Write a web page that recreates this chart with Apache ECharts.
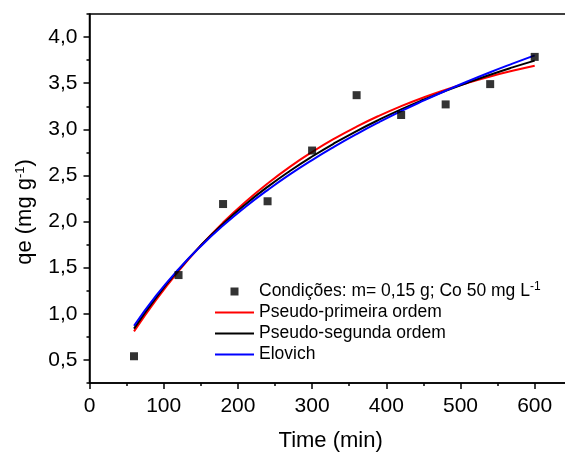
<!DOCTYPE html>
<html>
<head>
<meta charset="utf-8">
<script src="https://cdn.jsdelivr.net/npm/echarts@6/dist/echarts.min.js"></script>
<style>html,body{margin:0;padding:0;background:#fff;}#c{width:565px;height:454px;}</style>
</head>
<body>
<div id="c"></div>
<script>
// Experimental points
const timeExp = [60, 120, 180, 240, 300, 360, 420, 480, 540, 600];
const qeExp = [0.54, 1.42, 2.19, 2.22, 2.77, 3.37, 3.155, 3.27, 3.49, 3.785];

// Fitted curves
const timeFit = [60, 90, 120, 150, 180, 210, 240, 270, 300, 330, 360, 390, 420, 450, 480, 510, 540, 570, 600];
const qePFO = [0.81, 1.154, 1.463, 1.740, 1.989, 2.212, 2.412, 2.593, 2.754, 2.899, 3.029, 3.146, 3.251, 3.345, 3.429, 3.505, 3.573, 3.634, 3.689];
const qePSO = [0.84, 1.179, 1.476, 1.740, 1.975, 2.186, 2.376, 2.548, 2.705, 2.849, 2.981, 3.103, 3.216, 3.320, 3.417, 3.507, 3.592, 3.671, 3.745];
const qeElovich = [0.87, 1.199, 1.483, 1.733, 1.956, 2.158, 2.341, 2.511, 2.667, 2.812, 2.948, 3.076, 3.197, 3.310, 3.418, 3.521, 3.619, 3.712, 3.802];

const seriesNames = ['Condições: m= 0,15 g; Co 50 mg L-1', 'Pseudo-primeira ordem', 'Pseudo-segunda ordem', 'Elovich'];
const xTitle = 'Time (min)';
const xTickMax = 600;

const font = '"Liberation Sans", Arial, sans-serif';
const pair = (xs, ys) => xs.map((x, i) => [x, ys[i]]);
const comma = v => v.toFixed(1).replace('.', ',');
const lineIcon = 'path://M0,0 L39,0 L39,2 L0,2 Z';
const squareIcon = 'path://M0,0 L8,0 L8,8 L0,8 Z';

const chart = echarts.init(document.getElementById('c'), null, {renderer: 'canvas'});
chart.setOption({
  animation: false,
  backgroundColor: '#fff',
  textStyle: {fontFamily: font},
  grid: {left: 89.5, top: 14, width: 482.3, height: 369, outerBoundsMode: 'none', containLabel: false,
    show: true, borderColor: '#000', borderWidth: 1.5, backgroundColor: 'transparent'},
  xAxis: {
    type: 'value', min: 0, max: 650, interval: 100,
    name: xTitle, nameLocation: 'middle', nameGap: 47,
    nameTextStyle: {fontSize: 22, color: '#000', fontFamily: font},
    axisLine: {show: true, lineStyle: {color: '#000', width: 1.5}},
    axisTick: {show: true, inside: false, length: 6, lineStyle: {color: '#000', width: 1.5}},
    minorTick: {show: true, splitNumber: 2, length: 3, lineStyle: {color: '#000', width: 1.5}},
    axisLabel: {fontSize: 21, color: '#000', margin: 13, showMaxLabel: false, fontFamily: font,
      formatter: v => v > xTickMax ? '' : String(v)},
    splitLine: {show: false}
  },
  yAxis: [{
    type: 'value', min: 0.25, max: 4.25, splitNumber: 8,
    name: 'qe (mg g{sup|-1})', nameLocation: 'middle', nameGap: 53, nameRotate: 90,
    nameTextStyle: {fontSize: 22, color: '#000', fontFamily: font, padding: [0, 27, 0, 0],
      rich: {sup: {fontSize: 13, verticalAlign: 'top', padding: [0, 0, 10, 0], fontFamily: font, color: '#000'}}},
    axisLine: {show: true, lineStyle: {color: '#000', width: 1.5}},
    axisTick: {show: true, inside: false, length: 6, lineStyle: {color: '#000', width: 1.5}},
    axisLabel: {fontSize: 21, color: '#000', margin: 12, showMinLabel: false, showMaxLabel: false, fontFamily: font,
      formatter: v => (Math.abs(v * 2 - Math.round(v * 2)) < 1e-6 ? comma(v) : '')},
    splitLine: {show: false}
  }, {
    type: 'value', min: 0.25, max: 4.25, interval: 0.25, position: 'left',
    axisLine: {show: false},
    axisTick: {show: true, inside: false, length: 3, lineStyle: {color: '#000', width: 1.5}},
    axisLabel: {show: false},
    splitLine: {show: false}
  }],
  legend: {
    left: 215, top: 281, padding: 0, orient: 'vertical', itemGap: 0, itemWidth: 39, itemHeight: 8,
    symbolKeepAspect: true,
    data: [
      {name: seriesNames[0], icon: squareIcon},
      {name: seriesNames[1], icon: lineIcon},
      {name: seriesNames[2], icon: lineIcon},
      {name: seriesNames[3], icon: lineIcon}
    ],
    textStyle: {fontSize: 17.5, color: '#000', lineHeight: 21, fontFamily: font,
      rich: {sup: {fontSize: 12, lineHeight: 21, verticalAlign: 'top', padding: [0, 0, 9, 0], fontFamily: font, color: '#000'}}},
    formatter: n => n === seriesNames[0] ? 'Condições: m= 0,15 g; Co 50 mg L{sup|-1}' : n
  },
  series: [
    {name: seriesNames[1], type: 'line', data: pair(timeFit, qePFO), symbol: 'none', smooth: true, lineStyle: {color: '#ff0000', width: 2}, itemStyle: {color: '#ff0000'}, z: 2},
    {name: seriesNames[2], type: 'line', data: pair(timeFit, qePSO), symbol: 'none', smooth: true, lineStyle: {color: '#000000', width: 2}, itemStyle: {color: '#000000'}, z: 3},
    {name: seriesNames[3], type: 'line', data: pair(timeFit, qeElovich), symbol: 'none', smooth: true, lineStyle: {color: '#0000ff', width: 2}, itemStyle: {color: '#0000ff'}, z: 4},
    {name: seriesNames[0], type: 'scatter', data: pair(timeExp, qeExp), symbol: 'rect', symbolSize: 8, itemStyle: {color: '#000'}, z: 5}
  ]
});
</script>
</body>
</html>
